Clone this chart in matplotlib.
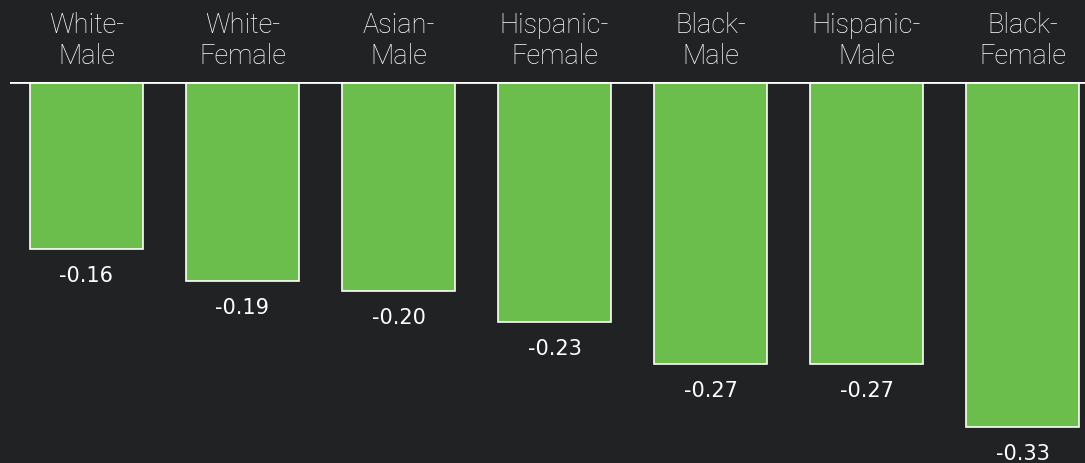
import matplotlib.pyplot as plt

# Groups and their values
groups = ["White-\nMale", "White-\nFemale", "Asian-\nMale", "Hispanic-\nFemale",
          "Black-\nMale", "Hispanic-\nMale", "Black-\nFemale"]
values = [-0.16, -0.19, -0.20, -0.23, -0.27, -0.27, -0.33]

bg = "#212224"
green = "#6bbe4b"

fig = plt.figure(figsize=(10.85, 4.64), dpi=100, facecolor=bg)
ax = fig.add_axes([10 / 1085, 0, 1075 / 1085, 381 / 464])
ax.set_facecolor(bg)

x = range(len(groups))
ax.bar(x, values, width=0.72, color=green, edgecolor="white", linewidth=1.2, zorder=2)
ax.axhline(0, color="white", lw=2, zorder=3)

for xi, g, v in zip(x, groups, values):
    ax.text(xi, 0.040, g, ha="center", va="center", color="white",
            fontsize=19.5, family="Roboto", fontweight="light", linespacing=1.2)
    ax.text(xi, v - 0.025, f"{v:.2f}", ha="center", va="center", color="white",
            fontsize=15, family="DejaVu Sans")

ax.set_xlim(-0.49, 6.40)
ax.set_ylim(-381 / 1045, 0)
ax.axis("off")

fig.savefig("out.png", dpi=100, facecolor=bg)
